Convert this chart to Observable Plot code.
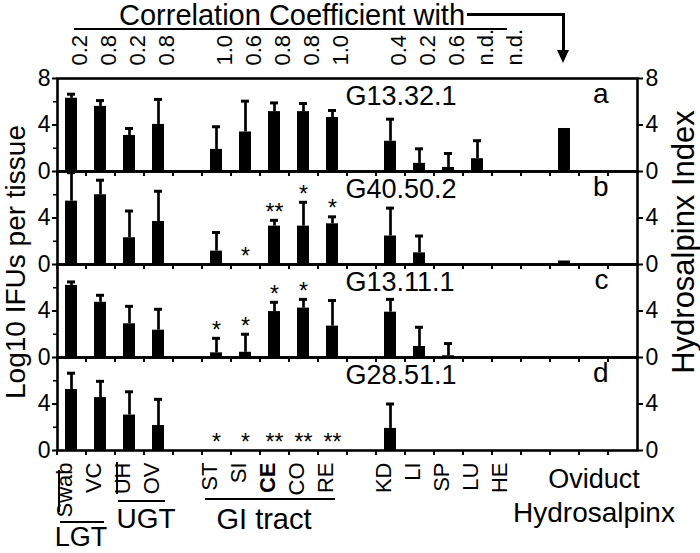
<!DOCTYPE html>
<html><head><meta charset="utf-8">
<script src="https://cdn.jsdelivr.net/npm/d3@7"></script>
<script src="https://cdn.jsdelivr.net/npm/@observablehq/plot@0.6"></script>
<style>
body{margin:0;background:#fff;}
#wrap{position:relative;width:700px;height:553px;font-family:"Liberation Sans",Arial,sans-serif;overflow:hidden;background:#fff;}
#wrap svg{position:absolute;left:0;top:0;}
.lbl{position:absolute;white-space:nowrap;color:#000;line-height:1;}
.rot{transform:translate(-50%,-50%) rotate(-90deg);}
.ln{position:absolute;background:#000;}
</style></head><body><div id="wrap"></div>
<script>
// slots on the x axis (empty slots keep the gaps of the original figure)
const slots = ["Swab","VC","UH","OV","_g1","ST","SI","CE","CO","RE","_g2","KD","LI","SP","LU","HE","_g3","Oviduct","_g4","_g5"];
const tissues = ["Swab","VC","UH","OV","ST","SI","CE","CO","RE","KD","LI","SP","LU","HE","Oviduct"];
const strains = ["G13.32.1","G40.50.2","G13.11.1","G28.51.1"];
const panels = ["a","b","c","d"];

// Log10 IFUs per tissue (mean) and upper error (SD); Oviduct = Hydrosalpinx index
const meanA = [6.3,5.6,3.1,4.05,1.9,3.4,5.15,5.15,4.65,2.6,0.7,0.35,1.1,0,3.7];
const errA  = [0.35,0.5,0.6,2.15,1.95,2.65,0.75,0.7,0.6,1.9,1.25,1.2,1.55,0,0];
const meanB = [5.45,6.0,2.3,3.7,1.15,0,3.3,3.3,3.5,2.45,1.0,0,0,0,0.3];
const errB  = [2.45,1.25,2.3,2.6,1.6,0,0.5,2.05,0.6,2.4,1.45,0,0,0,0];
const meanC = [6.2,4.75,2.9,2.35,0.4,0.45,3.95,4.25,2.7,3.9,0.95,0.15,0,0,0];
const errC  = [0.3,0.6,1.5,1.8,1.25,1.55,0.8,0.75,2.2,1.1,1.65,1.05,0,0,0];
const meanD = [5.25,4.55,3.05,2.15,0,0,0,0,0,1.9,0,0,0,0,0];
const errD  = [1.4,1.4,2.0,2.25,0,0,0,0,0,2.1,0,0,0,0,0];

// significance marks
const starsA = ["","","","","","","","","","","","","","",""];
const starsB = ["","","","","","*","**","*","*","","","","","",""];
const starsC = ["","","","","*","*","*","*","","","","","","",""];
const starsD = ["","","","","*","*","**","**","**","","","","","",""];

// correlation coefficient with hydrosalpinx index
const corrTissues = ["Swab","VC","UH","OV","ST","SI","CE","CO","RE","KD","LI","SP","LU","HE"];
const corrLabels = ["0.2","0.8","0.2","0.8","1.0","0.6","0.8","0.8","1.0","0.4","0.2","0.6","n.d.","n.d."];

const means = [meanA, meanB, meanC, meanD];
const errs = [errA, errB, errC, errD];
const stars = [starsA, starsB, starsC, starsD];
const rows = [];
panels.forEach((p, k) => tissues.forEach((t, i) => rows.push({
  panel: p, tissue: t, mean: means[k][i], err: errs[k][i],
  top: means[k][i] + errs[k][i], star: stars[k][i]
})));
const withErr = rows.filter(d => d.err > 0);
const withStar = rows.filter(d => d.star);
const FONT = '"Liberation Sans", Arial, sans-serif';

const chart = Plot.plot({
  width: 700, height: 553,
  marginTop: 77, marginBottom: 103, marginLeft: 57, marginRight: 63,
  style: {fontFamily: FONT, background: "white", color: "black", overflow: "visible"},
  x: {domain: slots, paddingInner: 0.575, paddingOuter: 0.2875, axis: null},
  y: {domain: [0, 8], axis: null},
  fy: {domain: panels, padding: 0, axis: null},
  marks: [
    Plot.barY(rows, {x: "tissue", y: "mean", fy: "panel", fill: "black"}),
    Plot.ruleX(withErr, {x: "tissue", y1: "mean", y2: "top", fy: "panel", stroke: "black", strokeWidth: 2.7}),
    Plot.tickY(withErr, {x: "tissue", y: "top", fy: "panel", stroke: "black", strokeWidth: 3, insetLeft: 2, insetRight: 2}),
    Plot.text(withStar, {x: "tissue", y: "top", fy: "panel", text: "star", dy: -8, fontSize: 23}),
    Plot.frame({stroke: "black", strokeWidth: 2.6}),
    Plot.ruleX(slots, {x: d => d, dx: -14.5, y1: 0, y2: 0, insetBottom: -5, stroke: "black", strokeWidth: 2}),
    Plot.axisY({anchor: "left", ticks: [0, 4], tickSize: 5, tickPadding: 2, fontSize: 23, strokeWidth: 2, label: null}),
    Plot.axisY({anchor: "left", ticks: [2, 6], tickSize: 4, tickFormat: () => "", strokeWidth: 1.5, label: null}),
    Plot.axisY({anchor: "left", ticks: [8], facetAnchor: "top", tickSize: 5, tickPadding: 2, fontSize: 23, strokeWidth: 2, label: null}),
    Plot.axisY({anchor: "right", ticks: [0, 4], tickSize: 5, tickPadding: 3, fontSize: 23, strokeWidth: 2, label: null}),
    Plot.axisY({anchor: "right", ticks: [8], facetAnchor: "top", tickSize: 5, tickPadding: 3, fontSize: 23, strokeWidth: 2, label: null}),
    Plot.text(strains, {fy: (d, i) => panels[i], x: () => "RE", dx: 13, frameAnchor: "top", textAnchor: "start", lineAnchor: "top", dy: 7, fontSize: 27}),
    Plot.text(panels, {fy: d => d, frameAnchor: "top-right", textAnchor: "end", lineAnchor: "top", dx: -29, dy: 5, fontSize: 28}),
    Plot.text(corrTissues, {x: d => d, text: (d, i) => corrLabels[i], fy: () => "a", frameAnchor: "top", rotate: -90, textAnchor: "start", dy: -13, fontSize: 22}),
    Plot.text(tissues.filter(t => t !== "CE" && t !== "Oviduct"), {x: d => d, fy: () => "d", frameAnchor: "bottom", rotate: -90, textAnchor: "end", dy: 12, fontSize: 22}),
    Plot.text(["CE"], {x: d => d, fy: () => "d", frameAnchor: "bottom", rotate: -90, textAnchor: "end", dy: 12, fontSize: 22, fontWeight: "bold"})
  ]
});
const wrap = document.getElementById("wrap");
wrap.appendChild(chart);

function add(html, css, cls) {
  const d = document.createElement("div");
  d.className = cls || "lbl";
  d.innerHTML = html;
  Object.assign(d.style, css);
  wrap.appendChild(d);
  return d;
}
// header
add("Correlation Coefficient with", {left: "119px", top: "1px", fontSize: "29px"});
add("", {left: "74px", top: "28px", width: "433px", height: "2px"}, "ln");
add("", {left: "467px", top: "13px", width: "97px", height: "2.5px"}, "ln");
add("", {left: "562px", top: "13px", width: "2.5px", height: "40px"}, "ln");
add("", {left: "557px", top: "50px", width: "0", height: "0", borderLeft: "6px solid transparent", borderRight: "6px solid transparent", borderTop: "13px solid #000", background: "transparent"}, "ln");
// axis titles
add("Log10 IFUs per tissue", {left: "16px", top: "262px", fontSize: "28px"}, "lbl rot");
add("Hydrosalpinx Index", {left: "683px", top: "242px", fontSize: "31px"}, "lbl rot");
// group labels
add("", {left: "58px", top: "470px", width: "2px", height: "42px"}, "ln");
add("", {left: "60px", top: "521px", width: "44px", height: "2px"}, "ln");
add("LGT", {left: "81px", top: "524px", fontSize: "27px", transform: "translateX(-50%)"});
add("", {left: "116px", top: "462px", width: "2px", height: "32px"}, "ln");
add("", {left: "118px", top: "500px", width: "47px", height: "2px"}, "ln");
add("UGT", {left: "146px", top: "505px", fontSize: "28px", transform: "translateX(-50%)"});
add("", {left: "205px", top: "498px", width: "130px", height: "2px"}, "ln");
add("GI tract", {left: "264px", top: "505px", fontSize: "29px", transform: "translateX(-50%)"});
add("Oviduct", {left: "594px", top: "466px", fontSize: "27px", transform: "translateX(-50%)"});
add("Hydrosalpinx", {left: "594px", top: "499px", fontSize: "28px", transform: "translateX(-50%)"});
</script></body></html>
